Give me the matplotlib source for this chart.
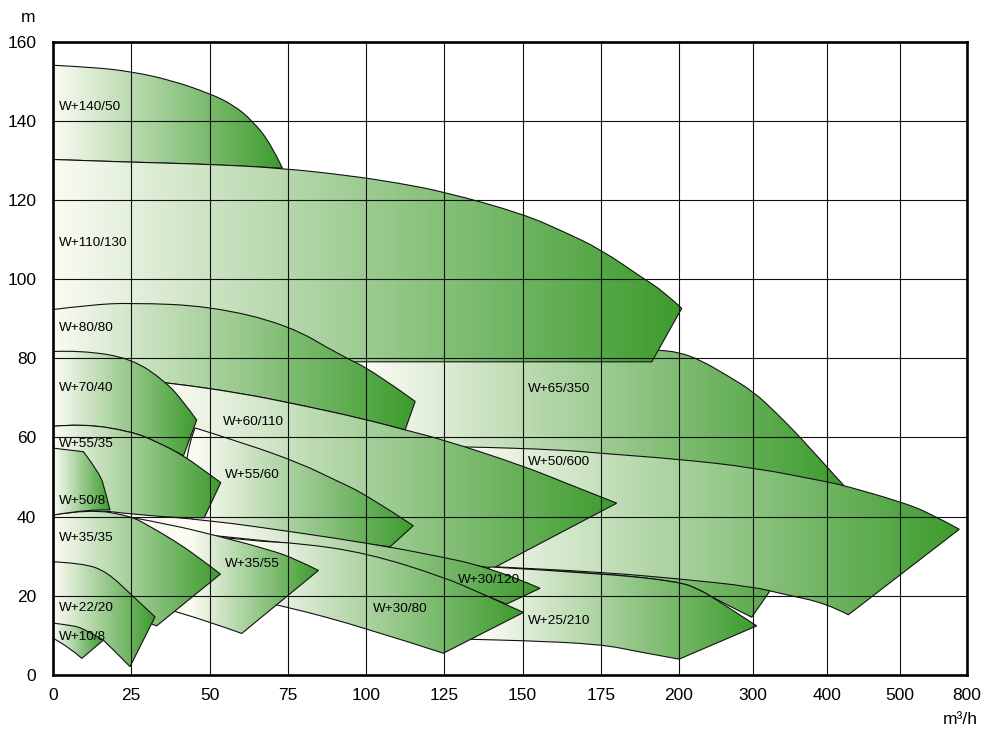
import numpy as np
import matplotlib
matplotlib.use("Agg")
import matplotlib.pyplot as plt
from matplotlib.path import Path
from matplotlib.patches import PathPatch
from matplotlib.colors import LinearSegmentedColormap

plt.rcParams['font.family'] = ['Liberation Sans', 'DejaVu Sans']

# ---- axes data ----
flow_ticks = [0, 25, 50, 75, 100, 125, 150, 175, 200, 300, 400, 500, 800]
flow_labels = ['0', '25', '50', '75', '100', '125', '150', '175', '200',
               '300', '400', '500', '800']
head_ticks = [0, 20, 40, 60, 80, 100, 120, 140, 160]

# ---- pump fields: outline (flow m3/h, head m) ----
w140_50_q = [0, 12.9, 25, 37.4, 50, 57.6, 63.7, 69.6, 73.3, 50, 25, 0]
w140_50_h = [154.0, 153.5, 152.4, 150.3, 146.9, 144.0, 140.0, 134.2, 128.0, 129.0, 129.5, 130.2]

w110_130_q = [0, 25, 50, 73.3, 95, 110, 125.2, 150, 163.1, 175, 188.7, 195.0, 203.6, 191.3, 0]
w110_130_h = [130.2, 129.5, 129, 128, 126.1, 124.3, 122, 116.5, 112.0, 107.5, 100.1, 96.9, 92.6, 79.1, 79.1]

w65_350_q = [95, 130, 160, 193.4, 200, 228.4, 263.7, 300.4, 332, 363.5, 399.6, 422.4,
             298.2, 250.9, 228.4, 200, 174.8, 139.6, 120, 95]
w65_350_h = [86, 85, 84, 82.1, 81.5, 79.6, 75.8, 71.6, 66.1, 60.1, 52.6, 48.0,
             14.6, 19.0, 21.5, 23.6, 25.7, 27.2, 31, 40]

w50_600_q = [128.4, 130, 162, 174.8, 200, 300.4, 399.6, 424.7, 500, 634, 765.5,
             429.2, 399.6, 338.8, 300.4, 200, 174.8, 139.6, 128.4]
w50_600_h = [57.6, 57.7, 56.9, 56.0, 54.5, 52.4, 48.8, 47.8, 43.8, 40.9, 36.8,
             15.2, 18.1, 20.5, 22.3, 24.3, 26.0, 27.4, 27.8]

w80_80_q = [0, 12, 25, 50, 75, 91.7, 102.3, 115.7, 112.5, 98.1, 78.9, 60, 36.1, 20, 0]
w80_80_h = [92.3, 93.5, 94.0, 93.2, 88.5, 80.8, 76.8, 69.1, 61.9, 64.9, 68.2, 71.2, 73.9, 75.0, 75.5]

w60_110_q = [0, 20, 36.1, 60, 78.9, 98.1, 112.5, 124.7, 149.2, 164.1, 180.1,
             140.7, 118.2, 100, 78.9, 50, 25, 0]
w60_110_h = [75.5, 75.0, 73.9, 71.2, 68.2, 64.9, 61.9, 59.4, 53.1, 48.4, 43.4,
             27.0, 29.5, 31.5, 34, 37.5, 39, 39]

w55_60_q = [45.4, 62, 78.9, 90, 100.2, 115.1, 107.7, 78.9, 55, 45, 41.7, 41.7]
w55_60_h = [62.4, 58.3, 53.5, 49.3, 45.5, 37.7, 32.4, 35, 37.8, 39, 42, 55.4]

w70_40_q = [0, 8.7, 25.1, 36.1, 41.6, 45.9, 41.7, 33.2, 25.1, 9.3, 0]
w70_40_h = [81.7, 82.0, 80.0, 74.0, 69.1, 64.4, 55.4, 58.9, 61.5, 63.5, 62.8]

w55_35_q = [0, 9.3, 25.1, 33.2, 41.7, 48.0, 53.6, 48.3, 25, 0]
w55_35_h = [62.8, 63.5, 61.5, 58.9, 55.4, 51.8, 48.6, 39.7, 40.0, 40.2]

w25_210_q = [139.6, 174.8, 200, 228.4, 250.9, 305, 200, 187.5, 174.8, 150, 133.2, 131.6]
w25_210_h = [27.3, 25.7, 23.6, 21.5, 19.0, 12.4, 4.0, 5.8, 7.8, 8.7, 9.0, 9.1]

w30_120_q = [0, 13, 25.1, 48.9, 78.9, 100.2, 118.2, 140.7, 155.6, 144.9, 124.7, 100.2, 78.9, 60, 30, 0]
w30_120_h = [40.4, 41.8, 40.6, 39.2, 35.9, 33.3, 30.8, 27.0, 21.9, 17.9, 24.5, 30.5, 33.0, 34.5, 37, 38.5]

w30_80_q = [45, 63.9, 78.9, 100.2, 124.7, 138, 150.3, 124.7, 100.2, 74.6, 60, 45]
w30_80_h = [35.5, 33.8, 33.3, 30.8, 24.8, 20.2, 15.8, 5.5, 11.8, 17.3, 19.5, 21.0]

w35_55_q = [25.1, 38, 51.2, 69.3, 77.5, 84.8, 60.3, 39.5, 25.1]
w35_55_h = [39.8, 37.9, 35.4, 31.6, 29.3, 26.4, 10.5, 16.4, 19.0]

w35_35_q = [0, 11.4, 24.8, 31.0, 38.4, 45.9, 53.5, 33.1, 25, 10, 0]
w35_35_h = [40.4, 41.9, 40.2, 37.5, 34.1, 30.1, 25.5, 12.4, 15, 18, 19]

w50_8_q = [0, 9.7, 15.0, 16.6, 18.2, 11.4, 0]
w50_8_h = [57.3, 56.4, 50.9, 46.7, 41.7, 41.9, 40.4]

w22_20_q = [0, 9.7, 17.2, 25.1, 32.6, 24.6, 20.4, 16.1, 8, 0]
w22_20_h = [28.6, 28.2, 26.1, 20.2, 14.7, 2.1, 5.5, 8.8, 10.5, 11.5]

w10_8_q = [0, 5.4, 9.7, 16.1, 9.2, 4.9, 0]
w10_8_h = [13.1, 12.6, 11.8, 8.8, 4.2, 7.2, 9.3]

# drawn back to front: name, outline, flow where the shading starts
pumps = [
    ('W+65/350', w65_350_q, w65_350_h, 99.7),
    ('W+50/600', w50_600_q, w50_600_h, 130),
    ('W+140/50', w140_50_q, w140_50_h, 0),
    ('W+110/130', w110_130_q, w110_130_h, 0),
    ('W+80/80', w80_80_q, w80_80_h, 0),
    ('W+60/110', w60_110_q, w60_110_h, 36.4),
    ('W+55/60', w55_60_q, w55_60_h, 45.4),
    ('W+70/40', w70_40_q, w70_40_h, 0),
    ('W+55/35', w55_35_q, w55_35_h, 0),
    ('W+25/210', w25_210_q, w25_210_h, 138),
    ('W+30/120', w30_120_q, w30_120_h, 55),
    ('W+30/80', w30_80_q, w30_80_h, 64),
    ('W+35/55', w35_55_q, w35_55_h, 44),
    ('W+35/35', w35_35_q, w35_35_h, 0),
    ('W+50/8', w50_8_q, w50_8_h, 0),
    ('W+22/20', w22_20_q, w22_20_h, 0),
    ('W+10/8', w10_8_q, w10_8_h, 0),
]

# label anchors (flow, head)
label_pos = {
    'W+140/50': (1.8, 143.5), 'W+110/130': (1.8, 109.0), 'W+80/80': (1.8, 87.6),
    'W+70/40': (1.8, 72.4), 'W+55/35': (1.8, 58.3), 'W+50/8': (1.8, 44.0),
    'W+35/35': (1.8, 34.5), 'W+22/20': (1.8, 16.9), 'W+10/8': (1.8, 9.7),
    'W+60/110': (54.3, 64.0), 'W+55/60': (55.0, 50.4), 'W+35/55': (55.0, 28.0),
    'W+30/80': (102.2, 16.7), 'W+30/120': (129.4, 24.0), 'W+25/210': (151.8, 13.6),
    'W+65/350': (151.8, 72.3), 'W+50/600': (151.8, 53.8),
}

# uneven flow axis: tick spacing in grid units
tick_pos = [0, 1, 2, 3, 4, 5, 6, 7, 8, 8.946, 9.891, 10.824, 11.680]


def fwd(q):
    return np.interp(q, flow_ticks, tick_pos)


def inv(p):
    return np.interp(p, tick_pos, flow_ticks)


fig = plt.figure(figsize=(9.83, 7.31), dpi=100)
ax = fig.add_axes([53 / 983, 56 / 731, 914 / 983, 633.5 / 731])
ax.set_xscale('function', functions=(fwd, inv))
ax.set_xlim(0, 800)
ax.set_ylim(0, 160)
ax.set_autoscale_on(False)


def outline_path(q, h):
    # smooth the curved sides, keep the sharp corners (tips, end lines)
    pts = np.column_stack([q, h]).astype(float)
    disp = ax.transData.transform(pts)
    n = len(pts)
    corner = []
    for i in range(n):
        a = disp[i] - disp[i - 1]
        b = disp[(i + 1) % n] - disp[i]
        ang = np.degrees(np.arctan2(a[0] * b[1] - a[1] * b[0], a @ b))
        corner.append(abs(ang) > 28)
    start = corner.index(True)
    seq = [pts[(start + k) % n] for k in range(n + 1)]
    flags = [corner[(start + k) % n] for k in range(n + 1)]
    verts, codes, ctrl = [seq[0]], [Path.MOVETO], []
    for p, c in zip(seq[1:], flags[1:]):
        if not c:
            ctrl.append(p)
            continue
        if not ctrl:
            verts.append(p)
            codes.append(Path.LINETO)
        else:
            for j, cp in enumerate(ctrl):
                end = p if j == len(ctrl) - 1 else (cp + ctrl[j + 1]) / 2
                verts += [cp, end]
                codes += [Path.CURVE3, Path.CURVE3]
        ctrl = []
    verts.append(seq[0])
    codes.append(Path.CLOSEPOLY)
    return Path(np.array(verts), codes)


cmap = LinearSegmentedColormap.from_list('pump', ['#fbfbf4', '#3d9b2d'])
cols = np.linspace(0, 1, 1400)
to_axes = ax.transAxes.inverted()

for i, (name, q, h, q0) in enumerate(pumps):
    z = 1 + i * 0.05
    patch = PathPatch(outline_path(q, h), facecolor='none', edgecolor='#111111',
                      linewidth=0.8, zorder=z + 0.01)
    ax.add_patch(patch)
    a0 = to_axes.transform(ax.transData.transform((q0, 0)))[0]
    a1 = to_axes.transform(ax.transData.transform((max(q), 0)))[0]
    frac = np.clip((cols - a0) / (a1 - a0), 0, 1)
    im = ax.imshow(frac[None, :], cmap=cmap, vmin=0, vmax=1, extent=[0, 1, 0, 1],
                   transform=ax.transAxes, aspect='auto', interpolation='nearest',
                   zorder=z)
    im.set_clip_path(patch)
    lx, ly = label_pos[name]
    ax.text(lx, ly, name, fontsize=9.7, ha='left', va='center', zorder=5)

ax.set_xlim(0, 800)
ax.set_ylim(0, 160)
ax.set_xticks(flow_ticks)
ax.set_xticklabels(flow_labels)
ax.set_yticks(head_ticks)
ax.minorticks_off()
ax.tick_params(axis='x', length=0, labelsize=12.5, pad=9)
ax.tick_params(axis='y', length=0, labelsize=12.5, pad=12)
ax.grid(True, color='#111111', linewidth=0.8)
ax.set_axisbelow(False)
for s in ax.spines.values():
    s.set_linewidth(1.9)
    s.set_zorder(6)

fig.text(28 / 983, 1 - 17 / 731, 'm', fontsize=12.5, ha='center', va='center')
fig.text(960 / 983, 1 - 720 / 731, 'm³/h', fontsize=12.5, ha='center', va='center')

fig.savefig('out.png', dpi=100)
